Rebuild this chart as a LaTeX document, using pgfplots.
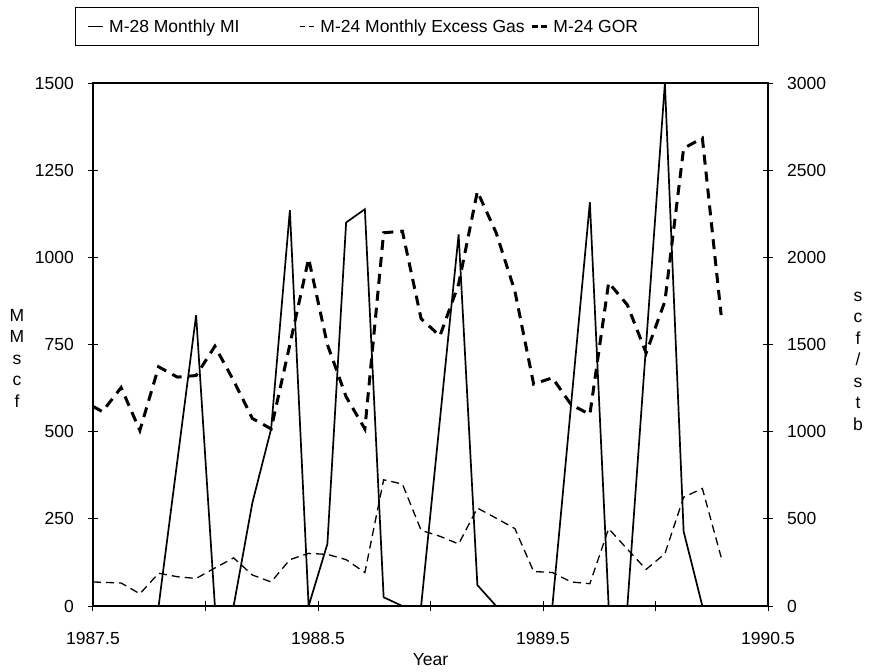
\documentclass[border=0pt]{standalone}
\usepackage{pgfplots}
\pgfplotsset{compat=1.18}
\usepackage{pgfplotstable}
\usepackage{fontspec}
\setmainfont{Liberation Sans}

\pgfplotstableread{
year      mi    gas  gor
1987.5    0     69   1145
1987.5417 0     68   1115
1987.625  0     66   1253
1987.7083 0     35   1007
1987.7917 0     94   1372
1987.875  417   84   1313
1987.9583 834   79   1322
1988.0417 0     109  1490
1988.125  0     138  1293
1988.2083 296   89   1076
1988.2917 508   69   1016
1988.375  1135  133  1500
1988.4583 0     151  1993
1988.5417 178   148  1500
1988.625  1100  133  1200
1988.7083 1138  96   1016
1988.7917 25    362  2141
1988.875  0     350  2150
1988.9583 0     217  1648
1989.0417 533   200  1549
1989.125  1066  178  1846
1989.2083 60    281  2378
1989.2917 0     252  2141
1989.375  0     222  1806
1989.4583 0     99   1273
1989.5417 0     96   1309
1989.625  579   69   1155
1989.7083 1158  64   1099
1989.7917 0     222  1855
1989.875  0     163  1727
1989.9583 750   105  1451
1990.0417 1500  150  1748
1990.125  214   312  2625
1990.2083 0     337  2684
1990.2917 0     140  1669
}\data

\begin{document}
\fontsize{8.75}{10.75}\selectfont
\begin{tikzpicture}
\begin{axis}[
  name=ax,
  scale only axis, width=337.5pt, height=261.5pt,
  xmin=1987.5, xmax=1990.5, ymin=0, ymax=1500,
  xtick={1987.5,1988,1988.5,1989,1989.5,1990,1990.5},
  xticklabels={1987.5,,1988.5,,1989.5,,1990.5},
  ytick={0,250,...,1500},
  xtick pos=bottom, ytick pos=left,
  tick align=center, major tick length=5pt,
  axis line style={line width=0.75pt},
  tick style={line width=0.5pt, black},
  /pgf/number format/assume math mode=true,
  /pgf/number format/1000 sep={},
  tick label style={font=\fontsize{8.75}{10.75}\selectfont},
  xticklabel shift=7.5pt,
  yticklabel shift=4pt,
  xlabel={Year}, ylabel={M\\M\\s\\c\\f},
  every axis x label/.style={at={(axis description cs:0.5,-0.1033)},anchor=center,font=\fontsize{8.75}{10.75}\selectfont},
  every axis y label/.style={at={(axis description cs:-0.1126,0.474)},anchor=center,align=center,font=\fontsize{8.75}{10.75}\selectfont},
  legend columns=3,
  legend cell align=left,
  legend image code/.code={\draw[#1] (0pt,0pt) -- (7.5pt,0pt);},
  legend style={at={(axis description cs:-0.0267,1.1453)}, anchor=north west,
    draw=black, line width=0.5pt, fill=white,
    inner xsep=6pt, inner ysep=2pt,
    nodes={inner xsep=0pt, inner ysep=3pt},
    font=\fontsize{8.75}{10.75}\selectfont,
    /tikz/every even column/.style={column sep=0pt},
    /tikz/every odd column/.style={column sep=0pt}},
]
\addplot[black, line width=0.85pt] table[x=year,y=mi]{\data};
\addlegendentry{\makebox[97.5pt][l]{\strut\hspace{2.5pt}M-28 Monthly MI}}
\addplot[black, line width=0.65pt, dash pattern=on 4pt off 2.5pt, forget plot] table[x=year,y=gas]{\data};
\addlegendimage{black, line width=0.65pt, dash pattern=on 2.5pt off 2pt}
\addlegendentry{\makebox[107.5pt][l]{\strut\hspace{2.5pt}M-24 Monthly Excess Gas}}
\addlegendimage{black, line width=1.5pt, dash pattern=on 3pt off 1.5pt}
\addlegendentry{\makebox[99pt][l]{\strut\hspace{2.5pt}M-24 GOR}}
\end{axis}
\begin{axis}[
  scale only axis, width=337.5pt, height=261.5pt,
  xmin=1987.5, xmax=1990.5, ymin=0, ymax=3000,
  axis y line*=right, axis x line=none,
  ytick={0,500,...,3000},
  tick align=center, major tick length=5pt,
  axis line style={line width=0.75pt},
  tick style={line width=0.5pt, black},
  /pgf/number format/assume math mode=true,
  /pgf/number format/1000 sep={},
  tick label style={font=\fontsize{8.75}{10.75}\selectfont},
  yticklabel shift=4pt,
  ylabel={s\\c\\f\\/\\s\\t\\b},
  every axis y label/.style={at={(axis description cs:1.1333,0.468)},anchor=center,align=center,font=\fontsize{8.75}{10.75}\selectfont},
]
\addplot[black, line width=1.5pt, dash pattern=on 5pt off 3.5pt] table[x=year,y=gor]{\data};
\end{axis}
\path ([shift={(-46.5pt,-32.5pt)}]ax.south west) rectangle ([shift={(51.5pt,41.5pt)}]ax.north east);
\end{tikzpicture}
\end{document}
